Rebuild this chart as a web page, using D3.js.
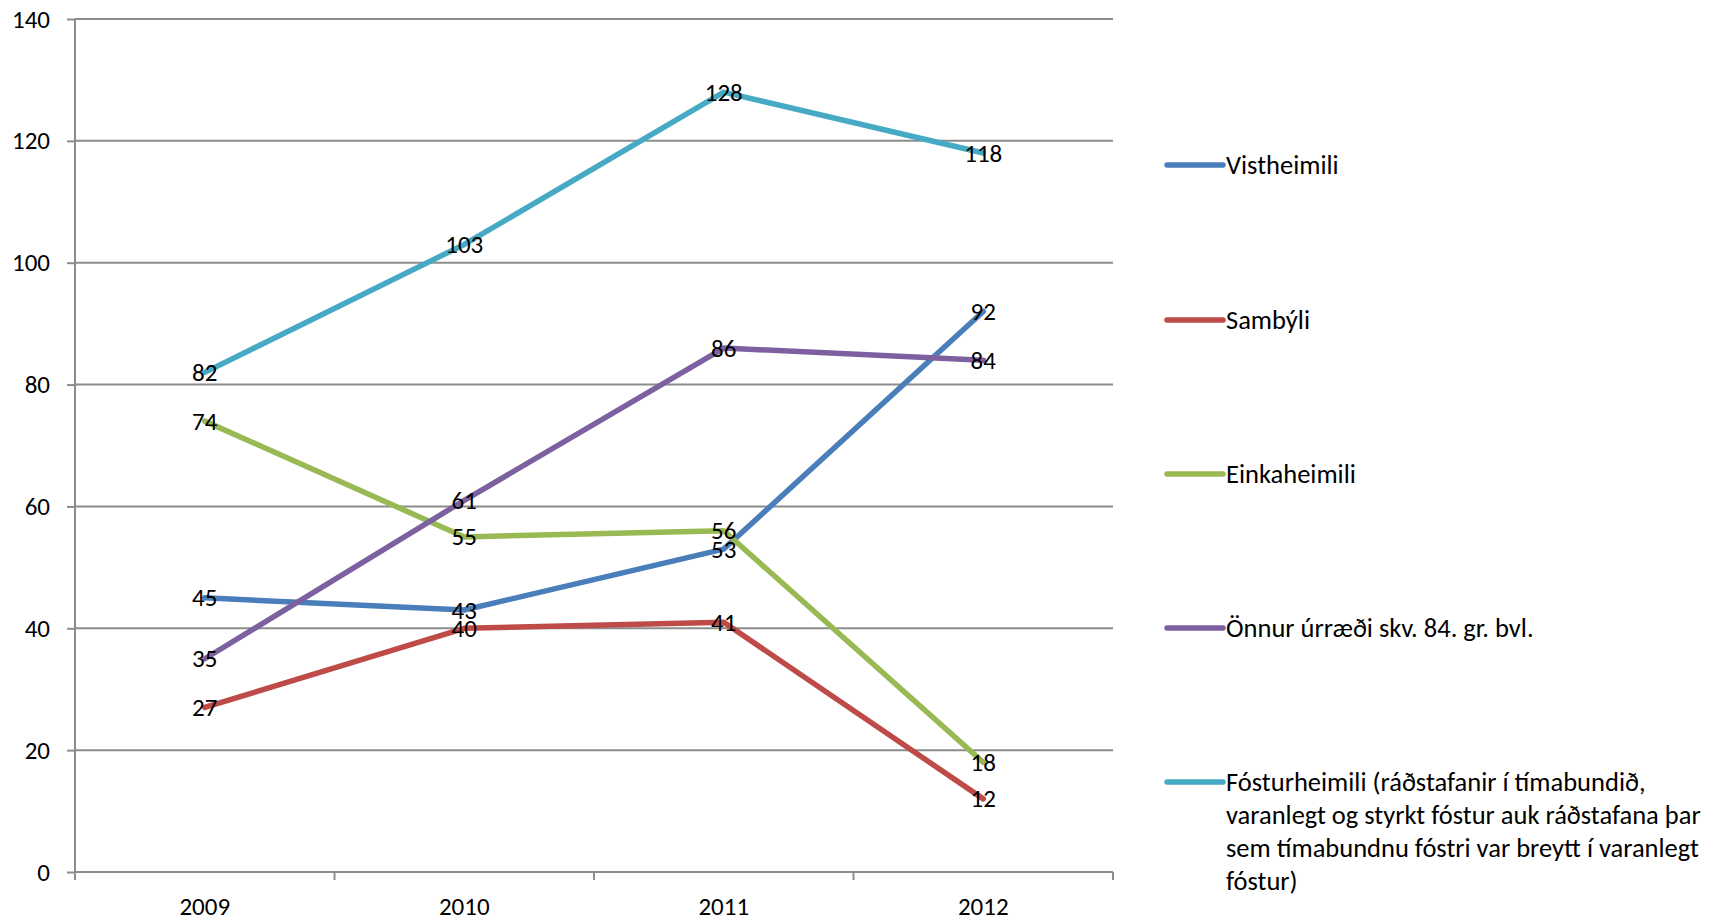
<!DOCTYPE html>
<html>
<head>
<meta charset="utf-8">
<script src="https://cdn.jsdelivr.net/npm/d3@7"></script>
<style>
  body { margin: 0; background: #fff; }
  svg { display: block; }
  text { font-family: Carlito, Calibri, Lato, sans-serif; fill: #000; }
</style>
</head>
<body>
<svg width="1727" height="920"></svg>
<script>
const years = ["2009", "2010", "2011", "2012"];
const yTicks = [0, 20, 40, 60, 80, 100, 120, 140];

const seriesNames = [
    "Vistheimili",
    "Sambýli",
    "Einkaheimili",
    "Önnur úrræði skv. 84. gr. bvl.",
    "Fósturheimili (ráðstafanir í tímabundið, varanlegt og styrkt fóstur auk ráðstafana þar sem tímabundnu fóstri var breytt í varanlegt fóstur)"
];
// legend text as wrapped in the original
const legendLines = [
    ["Vistheimili"],
    ["Sambýli"],
    ["Einkaheimili"],
    ["Önnur úrræði skv. 84. gr. bvl."],
    ["Fósturheimili (ráðstafanir í tímabundið,", "varanlegt og styrkt fóstur auk ráðstafana þar", "sem tímabundnu fóstri var breytt í varanlegt", "fóstur)"]
];
const vistheimili = [45, 43, 53, 92];
const sambyli = [27, 40, 41, 12];
const einkaheimili = [74, 55, 56, 18];
const onnur = [35, 61, 86, 84];
const fosturheimili = [82, 103, 128, 118];

const colors = ["#4a7ebb", "#be4b48", "#98b954", "#7d60a0", "#46aac5"];
const allValues = [vistheimili, sambyli, einkaheimili, onnur, fosturheimili];

const plot = { left: 75, right: 1113, top: 19, bottom: 872 };
const fontSize = 25;
const legendFontSize = 26.5;
const axisColor = "#8c8c8c";

const svg = d3.select("svg");

const x = d3.scaleBand().domain(years).range([plot.left, plot.right]).padding(0);
const y = d3.scaleLinear().domain([0, 140]).range([plot.bottom, plot.top]);
const cx = d => x(d) + x.bandwidth() / 2;

// gridlines
svg.append("g")
    .selectAll("line")
    .data(yTicks.filter(d => d > 0))
    .enter().append("line")
    .attr("x1", plot.left).attr("x2", plot.right)
    .attr("y1", d => y(d)).attr("y2", d => y(d))
    .attr("stroke", axisColor).attr("stroke-width", 2);

// Y axis
const yAxis = svg.append("g")
    .attr("transform", `translate(${plot.left},0)`)
    .call(d3.axisLeft(y).tickValues(yTicks).tickSize(8).tickPadding(17));
yAxis.select(".domain").remove();
yAxis.selectAll(".tick line").attr("stroke", axisColor).attr("stroke-width", 2);
yAxis.selectAll(".tick text").style("font-size", fontSize + "px")
    .style("font-family", "Carlito, Calibri, Lato, sans-serif").attr("fill", "#000");
svg.append("line")
    .attr("x1", plot.left).attr("x2", plot.left)
    .attr("y1", plot.top).attr("y2", plot.bottom + 8)
    .attr("stroke", axisColor).attr("stroke-width", 2);

// X axis with ticks between categories
svg.append("line")
    .attr("x1", plot.left).attr("x2", plot.right)
    .attr("y1", plot.bottom).attr("y2", plot.bottom)
    .attr("stroke", axisColor).attr("stroke-width", 2);
const boundaries = years.map(d => x(d)).concat([x.range()[1]]);
svg.append("g").selectAll("line")
    .data(boundaries)
    .enter().append("line")
    .attr("x1", d => d).attr("x2", d => d)
    .attr("y1", plot.bottom).attr("y2", plot.bottom + 8)
    .attr("stroke", axisColor).attr("stroke-width", 2);
svg.append("g").selectAll("text")
    .data(years)
    .enter().append("text")
    .attr("x", d => cx(d))
    .attr("y", plot.bottom + 34)
    .attr("text-anchor", "middle")
    .attr("dominant-baseline", "central")
    .style("font-size", fontSize + "px")
    .text(d => d);

// lines
const line = d3.line()
    .x((d, i) => cx(years[i]))
    .y(d => y(d));

svg.append("g").selectAll("path")
    .data(allValues)
    .enter().append("path")
    .attr("d", d => line(d))
    .attr("fill", "none")
    .attr("stroke", (d, i) => colors[i])
    .attr("stroke-width", 5.5)
    .attr("stroke-linejoin", "round")
    .attr("stroke-linecap", "round");

// data labels
allValues.forEach(vals => {
    svg.append("g").selectAll("text")
        .data(vals)
        .enter().append("text")
        .attr("x", (d, i) => cx(years[i]))
        .attr("y", d => y(d))
        .attr("text-anchor", "middle")
        .attr("dominant-baseline", "central")
        .style("font-size", fontSize + "px")
        .text(d => d);
});

// legend
const legendY = [165, 320, 474, 628, 782];
const legend = svg.append("g");
legendLines.forEach((lines, i) => {
    const g = legend.append("g").attr("transform", `translate(0,${legendY[i]})`);
    g.append("line")
        .attr("x1", 1167).attr("x2", 1223)
        .attr("y1", 0).attr("y2", 0)
        .attr("stroke", colors[i])
        .attr("stroke-width", 5.5)
        .attr("stroke-linecap", "round");
    g.selectAll("text")
        .data(lines)
        .enter().append("text")
        .attr("x", 1226)
        .attr("y", (d, j) => j * 33)
        .attr("dominant-baseline", "central")
        .style("font-size", legendFontSize + "px")
        .text(d => d);
});
</script>
</body>
</html>
